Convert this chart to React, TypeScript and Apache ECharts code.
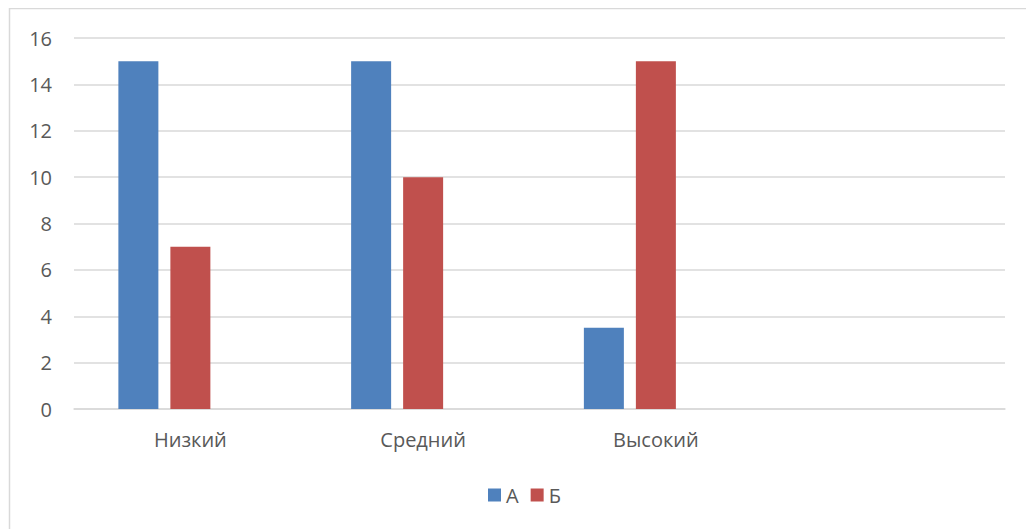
import React, { useEffect, useRef } from "react";
import * as echarts from "echarts";

const categories = ["Низкий", "Средний", "Высокий", ""];
const seriesA = [15, 15, 3.5, null];
const seriesB = [7, 10, 15, null];
const seriesEmpty = [null, null, null, null];
const yTicks = { min: 0, max: 16, interval: 2 };

export default function App() {
  const ref = useRef<HTMLDivElement>(null);
  useEffect(() => {
    if (!ref.current) return;
    const chart = echarts.init(ref.current, null, { renderer: "svg" });
    const font = "'Open Sans', 'Liberation Sans', sans-serif";
    chart.setOption({
      animation: false,
      backgroundColor: "#ffffff",
      textStyle: { fontFamily: font },
      graphic: [
        {
          type: "rect",
          shape: { x: 1.5, y: 0.5, width: 1023, height: 530 },
          style: { fill: "none", stroke: "#d9d9d9", lineWidth: 1.5 },
          silent: true,
        },
      ],
      grid: { left: 66, right: 29, top: 30, bottom: 120 },
      legend: {
        data: ["А", "Б"],
        left: 475,
        top: 472,
        itemWidth: 13,
        itemHeight: 13,
        itemGap: 12,
        icon: "rect",
        textStyle: { color: "#595959", fontSize: 20, fontFamily: font },
      },
      xAxis: {
        type: "category",
        data: categories,
        axisLine: { lineStyle: { color: "#d9d9d9", width: 1.5 } },
        axisTick: { show: false },
        axisLabel: { color: "#595959", fontSize: 20, margin: 20, fontFamily: font },
      },
      yAxis: {
        type: "value",
        min: yTicks.min,
        max: yTicks.max,
        interval: yTicks.interval,
        axisLine: { show: false },
        axisTick: { show: false },
        splitLine: { lineStyle: { color: "#d9d9d9", width: 1.5 } },
        axisLabel: { color: "#595959", fontSize: 20, margin: 22, fontFamily: font },
      },
      series: [
        { name: "А", type: "bar", data: seriesA, barWidth: 40, barGap: "30%", itemStyle: { color: "#4f81bd" } },
        { name: "Б", type: "bar", data: seriesB, barWidth: 40, barGap: "30%", itemStyle: { color: "#c0504d" } },
        { name: "_", type: "bar", data: seriesEmpty, barWidth: 40, barGap: "30%", itemStyle: { color: "#9bbb59" } },
      ],
    });
    return () => chart.dispose();
  }, []);
  return <div ref={ref} style={{ width: 1026, height: 521 }} />;
}
